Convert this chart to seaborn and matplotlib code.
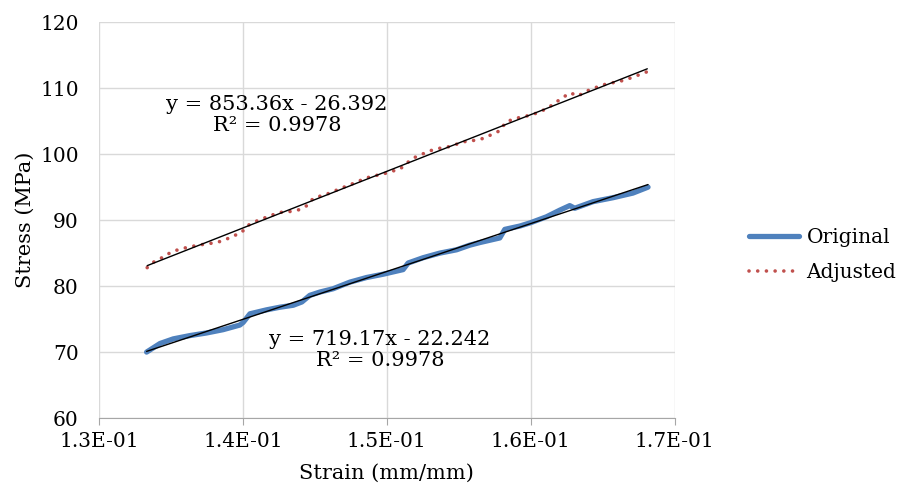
import numpy as np
import matplotlib
matplotlib.use("Agg")
import matplotlib.pyplot as plt
import seaborn as sns

# Original curve (strain, stress)
strain_orig = [0.13331, 0.13424, 0.13516, 0.13632, 0.13748, 0.13863, 0.13979, 0.14002,
               0.14049, 0.14164, 0.14257, 0.14350, 0.14410, 0.14465, 0.14535, 0.14627,
               0.14743, 0.14859, 0.14974, 0.15113, 0.15148, 0.15252, 0.15368, 0.15484,
               0.15576, 0.15646, 0.15785, 0.15820, 0.15924, 0.15998, 0.16109, 0.16201,
               0.16271, 0.16306, 0.16433, 0.16572, 0.16710, 0.16815]
stress_orig = [70.0, 71.3, 72.0, 72.5, 72.9, 73.4, 74.1, 74.5,
               75.8, 76.4, 76.8, 77.1, 77.6, 78.6, 79.1, 79.6,
               80.6, 81.3, 81.8, 82.5, 83.5, 84.3, 85.0, 85.5,
               86.2, 86.6, 87.3, 88.6, 89.1, 89.6, 90.5, 91.5,
               92.2, 91.8, 92.8, 93.4, 94.1, 95.0]

# Adjusted curve
strain_adj = [0.13335, 0.13389, 0.13447, 0.13505, 0.13563, 0.13620, 0.13690, 0.13748,
              0.13817, 0.13875, 0.13933, 0.13991, 0.14026, 0.14083, 0.14141, 0.14199,
              0.14269, 0.14326, 0.14396, 0.14453, 0.14488, 0.14546, 0.14604, 0.14662,
              0.14720, 0.14778, 0.14847, 0.14905, 0.14963, 0.15033, 0.15090, 0.15137,
              0.15183, 0.15241, 0.15299, 0.15356, 0.15426, 0.15484, 0.15542, 0.15611,
              0.15674, 0.15731, 0.15790, 0.15824, 0.15877, 0.15940, 0.16000, 0.16062,
              0.16120, 0.16171, 0.16224, 0.16275, 0.16328, 0.16382, 0.16440, 0.16502,
              0.16565, 0.16630, 0.16688, 0.16750, 0.16810]
stress_adj = [82.8, 83.8, 84.4, 85.2, 85.6, 85.9, 86.2, 86.4,
              86.6, 87.0, 87.6, 88.1, 89.1, 89.75, 90.25, 90.75,
              91.2, 91.3, 91.6, 92.3, 93.3, 93.7, 94.1, 94.65,
              95.15, 95.65, 96.3, 96.7, 96.9, 97.4, 97.7, 98.6,
              99.4, 99.95, 100.5, 100.85, 101.1, 101.5, 101.9, 102.1,
              102.4, 103.0, 103.6, 104.8, 105.3, 105.65, 105.9, 106.4,
              107.0, 107.8, 108.6, 109.3, 108.8, 109.5, 110.0, 110.5,
              110.8, 111.1, 111.5, 112.0, 112.5]

eq_adj = "y = 853.36x - 26.392\nR² = 0.9978"
eq_orig = "y = 719.17x - 22.242\nR² = 0.9978"
x_ticks = [0.13, 0.14, 0.15, 0.16, 0.17]
x_ticklabels = ["1.3E-01", "1.4E-01", "1.5E-01", "1.6E-01", "1.7E-01"]
y_ticks = [60, 70, 80, 90, 100, 110, 120]

sns.set_style("white")
plt.rcParams['font.family'] = ['DejaVu Serif']
plt.rcParams['text.color'] = 'black'
plt.rcParams['xtick.color'] = 'black'
plt.rcParams['ytick.color'] = 'black'
plt.rcParams['axes.labelcolor'] = 'black'

fig = plt.figure(figsize=(9.08, 4.93), dpi=100)
ax = fig.add_axes([0.109, 0.152, 0.634, 0.803])

blue = "#4f81bd"
red = "#c0504d"

sns.lineplot(x=strain_orig, y=stress_orig, sort=False, estimator=None, ax=ax,
             color=blue, linewidth=3.8, label="Original", solid_capstyle="round")
sns.lineplot(x=strain_adj, y=stress_adj, sort=False, estimator=None, ax=ax,
             color=red, linewidth=2.6, label="Adjusted",
             dashes=False, linestyle=(0, (0.01, 2.4)), dash_capstyle="round")

# linear trendlines
sns.regplot(x=strain_orig, y=stress_orig, scatter=False, ci=None, truncate=True,
            ax=ax, color="black", line_kws={"linewidth": 1.0})
sns.regplot(x=strain_adj, y=stress_adj, scatter=False, ci=None, truncate=True,
            ax=ax, color="black", line_kws={"linewidth": 1.0})

ax.set_xlim(0.13, 0.17)
ax.set_ylim(60, 120)
ax.set_xticks(x_ticks)
ax.set_xticklabels(x_ticklabels)
ax.set_yticks(y_ticks)
ax.grid(True, color="#d9d9d9", linewidth=1)
ax.set_axisbelow(True)
for s in ["top", "right", "left"]:
    ax.spines[s].set_visible(False)
ax.spines["bottom"].set_color("#a6a6a6")
ax.tick_params(axis="x", bottom=True, length=5, color="#a6a6a6", labelsize=14.5, pad=5)
ax.tick_params(axis="y", left=False, labelsize=14.5, pad=11)

ax.set_xlabel("Strain (mm/mm)", fontsize=15, labelpad=9)
ax.set_ylabel("Stress (MPa)", fontsize=15, labelpad=4)

ax.text(0.14236, 105.9, eq_adj, ha="center", va="center", fontsize=15,
        linespacing=1.1)
ax.text(0.14951, 70.3, eq_orig, ha="center", va="center", fontsize=15,
        linespacing=1.1)

handles, labels = ax.get_legend_handles_labels()
ax.legend_.remove()
fig.legend(handles[:2], labels[:2], loc="center left", bbox_to_anchor=(0.805, 0.483),
           frameon=False, prop={"size": 14.5},
           handlelength=2.5, handletextpad=0.35, labelspacing=0.8)

fig.savefig("out.png", dpi=100)
